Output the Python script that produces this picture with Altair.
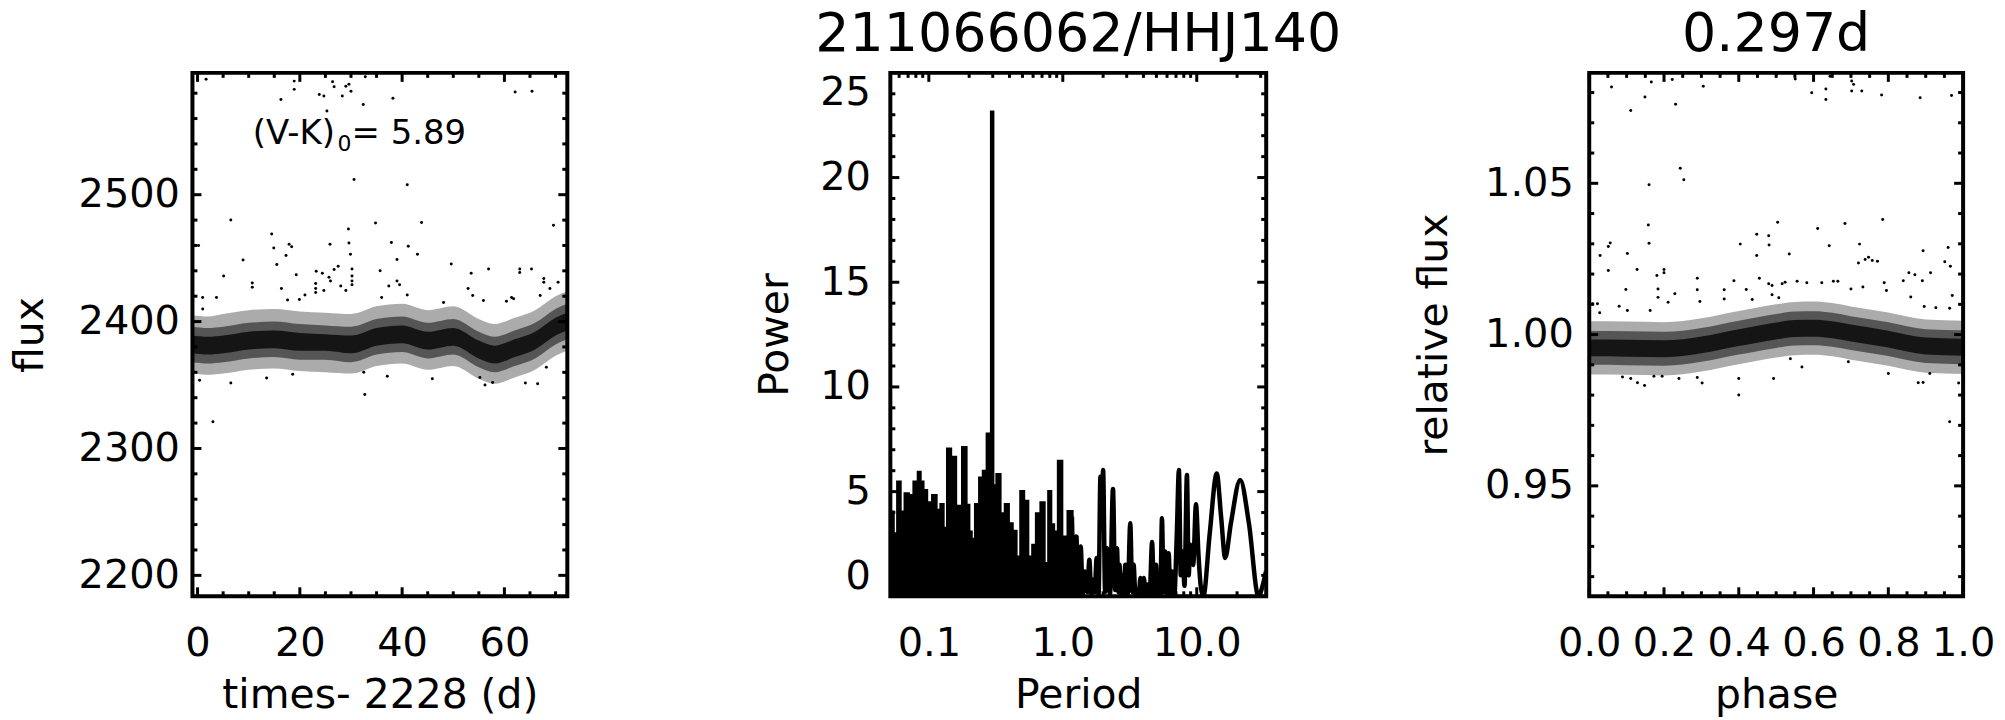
import altair as alt
import pandas as pd

FONT = "DejaVu Sans"

# ---------------- Panel 1: light curve ----------------
lc_band_t = [-1, 2, 5, 10, 15, 20, 25, 30, 35, 40, 45, 50, 55, 58, 62, 66, 70, 72.3]
lc_in_hi = [2389, 2388, 2389, 2392, 2393, 2391, 2390, 2389, 2395, 2397, 2392, 2395, 2385, 2381, 2386, 2392, 2403, 2407]
lc_in_lo = [2375, 2374, 2375, 2378, 2379, 2377, 2377, 2375, 2381, 2383, 2378, 2381, 2371, 2367, 2372, 2378, 2389, 2393]
lc_mid_hi = [2396, 2395, 2396, 2399, 2400, 2398, 2397, 2396, 2402, 2404, 2399, 2402, 2392, 2388, 2393, 2399, 2410, 2414]
lc_mid_lo = [2368, 2367, 2368, 2371, 2372, 2370, 2370, 2368, 2374, 2376, 2371, 2374, 2364, 2360, 2365, 2371, 2382, 2386]
lc_out_hi = [2405, 2404, 2406, 2409, 2410, 2408, 2407, 2406, 2412, 2414, 2409, 2412, 2402, 2398, 2403, 2409, 2420, 2424]
lc_out_lo = [2359, 2358, 2359, 2362, 2363, 2361, 2360, 2359, 2365, 2367, 2362, 2365, 2355, 2351, 2356, 2362, 2373, 2377]

lc_out_t = [1.67, 18.9, 18.9, 16.3, 26.4, 26.7, 29.6, 29.0, 30.0, 28.3, 23.8, 24.7, 25.3, 32.8, 32.4, 38.2, 62.1, 65.4, 41.0, 30.6,
            6.5, 14.5, 29.5, 34.8, 0.2, 14.9, 17.9, 18.4, 25.9, 29.6, 29.9, 17.3, 8.9, 15.5, 5.1, 27.5, 26.7, 19.3, 23.2, 24.4,
            26.0, 30.2, 30.2, 30.2, 35.7, 10.7, 10.7, 16.4, 23.1, 23.1, 23.1, 24.7, 28.0, 29.0, 25.7, 30.2, 3.7, 1.0, 1.0, 17.6,
            19.9, 21.0, 13.5, 6.5, 32.7, 3.0, 0.4, 18.6, 32.5,
            43.8, 69.6, 37.9, 41.2, 43.0, 39.0, 49.6, 53.5, 56.9, 63.0, 63.0, 65.3, 39.0, 39.5, 37.4, 36.0, 52.9, 53.8, 67.7, 67.7,
            68.9, 70.5, 41.0, 48.1, 55.9, 60.4, 61.4, 61.8, 67.0, 37.1, 45.9, 56.2, 57.7, 64.1, 66.5, 55.2, 68.2]
lc_out_f = [2591, 2589.5, 2583, 2575, 2589, 2585, 2587, 2585.5, 2581.6, 2577.7, 2579, 2577.7, 2566, 2593, 2571, 2576, 2581, 2581.6, 2507.8, 2512,
            2480, 2469, 2473, 2477.6, 2460, 2458, 2461, 2459, 2461, 2462, 2453, 2452, 2448.5, 2445, 2436, 2443.6, 2441, 2437, 2439.6, 2438,
            2432, 2441.5, 2436, 2432, 2440, 2430.5, 2427, 2426, 2430, 2426, 2423, 2424.5, 2428, 2424.5, 2435, 2429, 2419, 2419, 2410, 2417,
            2417.4, 2421, 2355.6, 2351.6, 2342.5, 2321, 2353.8, 2358.5, 2360,
            2478, 2476, 2462.4, 2459.3, 2453, 2449, 2445.4, 2438, 2441.5, 2441.5, 2438.6, 2441.5, 2432, 2429, 2428, 2419, 2426, 2420.5, 2434, 2431,
            2426, 2431, 2421, 2415, 2416.6, 2416, 2419, 2418, 2420.5, 2357, 2355, 2350, 2352, 2351.6, 2351, 2356, 2364]

lc_x_major = [0, 20, 40, 60]
lc_x_minor = [5, 10, 15, 25, 30, 35, 45, 50, 55, 65, 70]
lc_y_major = [2200, 2300, 2400, 2500]
lc_y_minor = [2220, 2240, 2260, 2280, 2320, 2340, 2360, 2380, 2420, 2440, 2460, 2480, 2520, 2540, 2560, 2580]

# ---------------- Panel 2: periodogram ----------------
pg_dense_p = [0.0516, 0.0535, 0.0560, 0.0600, 0.0634, 0.0684, 0.0737, 0.0798, 0.0855, 0.0885, 0.0942, 0.1004, 0.1112,
              0.1177, 0.1262, 0.1320, 0.1415, 0.1524, 0.1680, 0.1860, 0.1970, 0.2050, 0.2135, 0.2286, 0.2460, 0.2594,
              0.2810, 0.3050, 0.3340, 0.3530, 0.3850, 0.4075, 0.4395, 0.4650, 0.4980, 0.5330, 0.5740, 0.6080, 0.6520,
              0.7100, 0.7560, 0.8000, 0.8430, 0.8820, 0.9560, 1.0300, 1.1410, 1.2300, 1.3540]
pg_dense_pow = [4.05, 4.05, 3.0, 5.48, 4.05, 4.92, 4.84, 5.48, 5.95, 5.48, 5.08, 4.49, 4.84,
                4.13, 4.41, 3.27, 7.06, 6.67, 4.33, 7.13, 4.37, 3.1, 2.75, 4.41, 5.68, 6.0,
                7.78, 5.3, 5.84, 3.97, 4.41, 3.49, 3.13, 1.9, 5.03, 4.56, 1.9, 2.46, 3.97,
                4.49, 1.59, 5.03, 3.44, 3.1, 6.48, 2.86, 4.08, 2.86, 2.38]

pg_line_p = [1.17, 1.22, 1.26, 1.30, 1.36, 1.41, 1.46, 1.52, 1.58, 1.63, 1.675, 1.73, 1.79, 1.85, 1.91, 1.95, 2.0, 2.07,
             2.14, 2.25, 2.37, 2.46, 2.54, 2.60, 2.65, 2.71, 2.77, 2.85, 2.93, 3.05, 3.19, 3.30, 3.38, 3.48, 3.58, 3.69,
             3.80, 3.92, 4.03, 4.14, 4.26, 4.45, 4.64, 4.80, 4.97, 5.08, 5.2, 5.35, 5.5, 5.66, 5.82, 6.0, 6.17, 6.35,
             6.53, 6.8, 7.1, 7.36, 7.6, 7.84, 8.1, 8.45, 8.7, 8.95, 9.4, 9.87, 10.3, 10.7, 11.2, 12.5, 14.1, 15.2, 16.3,
             18.0, 21.1, 24.5, 28.9, 31.0, 32.9]
pg_line_pow = [3.81, 0.3, 2.86, 0.2, 2.38, 0.1, 1.19, 0.2, 1.75, 0.1, 0.79, 0.2, 1.83, 0.1, 5.71, 3.5, 6.03, 0.2,
               2.3, 0.1, 5.13, 0.3, 2.3, 0.2, 1.51, 0.1, 1.03, 0.1, 1.51, 0.1, 3.49, 0.2, 1.51, 0.1, 0.32, 0.05,
               0.87, 0.05, 0.87, 0.05, 0.56, 0.05, 2.59, 0.1, 1.51, 0.05, 0.56, 0.05, 3.73, 0.2, 2.14, 0.1, 2.06, 0.1,
               1.19, 0.05, 3.0, 6.03, 1.0, 2.14, 0.5, 5.79, 1.0, 2.46, 1.5, 4.40, 2.0, 0.5, 0.0, 3.0, 5.87, 3.8, 1.83,
               3.5, 5.56, 3.5, 0.0, 0.5, 1.2]

pg_peak_p = [0.297]
pg_peak_pow = [23.2]

pg_x_major = [0.1, 1.0, 10.0]
pg_x_minor = [0.06, 0.07, 0.08, 0.09, 0.2, 0.3, 0.4, 0.5, 0.6, 0.7, 0.8, 0.9,
              2, 3, 4, 5, 6, 7, 8, 9, 20, 30]
pg_y_major = [0, 5, 10, 15, 20, 25]
pg_y_minor = [1, 2, 3, 4, 6, 7, 8, 9, 11, 12, 13, 14, 16, 17, 18, 19, 21, 22, 23, 24]

# ---------------- Panel 3: phased light curve ----------------
ph_band = [0.0, 0.1, 0.2, 0.3, 0.4, 0.5, 0.55, 0.6, 0.65, 0.7, 0.8, 0.9, 1.0]
ph_in_hi = [0.9984, 0.9983, 0.9981, 0.9994, 1.0018, 1.0040, 1.0048, 1.0049, 1.0044, 1.0033, 1.0013, 0.9990, 0.9986]
ph_in_lo = [0.9928, 0.9927, 0.9925, 0.9938, 0.9962, 0.9984, 0.9992, 0.9993, 0.9988, 0.9977, 0.9957, 0.9934, 0.9930]
ph_mid_hi = [1.0012, 1.0011, 1.0009, 1.0022, 1.0046, 1.0068, 1.0076, 1.0077, 1.0072, 1.0061, 1.0041, 1.0018, 1.0014]
ph_mid_lo = [0.9900, 0.9899, 0.9897, 0.9910, 0.9934, 0.9956, 0.9964, 0.9965, 0.9960, 0.9949, 0.9929, 0.9906, 0.9902]
ph_out_hi = [1.0044, 1.0043, 1.0041, 1.0054, 1.0078, 1.0100, 1.0108, 1.0109, 1.0104, 1.0093, 1.0073, 1.0050, 1.0046]
ph_out_lo = [0.9868, 0.9867, 0.9865, 0.9878, 0.9902, 0.9924, 0.9932, 0.9933, 0.9928, 0.9917, 0.9897, 0.9874, 0.9870]

ph_out_x = [0.0596, 0.166, 0.222, 0.305, 0.149, 0.231, 0.111, 0.2435, 0.253, 0.160, 0.158, 0.160, 0.056, 0.051, 0.029,
            0.102, 0.051, 0.128, 0.181, 0.200, 0.200, 0.098, 0.184, 0.184, 0.229, 0.289, 0.289, 0.211, 0.361, 0.361,
            0.387, 0.404, 0.448, 0.448, 0.455, 0.481, 0.504, 0.420, 0.436, 0.489, 0.009, 0.022, 0.028, 0.080, 0.102,
            0.163, 0.296, 0.089, 0.111, 0.129, 0.148, 0.173, 0.195, 0.240, 0.289, 0.302, 0.400, 0.400, 0.493,
            0.551, 0.595, 0.633, 0.633, 0.644, 0.702, 0.707, 0.702, 0.729, 0.782, 0.885, 0.969, 0.611, 0.684, 0.785,
            0.480, 0.642, 0.723, 0.535, 0.960, 0.720, 0.747, 0.738, 0.771, 0.757, 0.893, 0.951, 0.966, 0.855, 0.871,
            0.840, 0.891, 0.913, 0.789, 0.795, 0.516, 0.524, 0.556, 0.582, 0.622, 0.653, 0.665, 0.480, 0.700, 0.732,
            0.971, 0.860, 0.896, 0.927, 0.964, 0.489, 0.507, 0.880, 0.893, 0.911, 0.964, 0.988, 0.800, 0.693, 0.569, 0.538]
ph_out_y = [1.0818, 1.0835, 1.0843, 1.0821, 1.0785, 1.0761, 1.0741, 1.0550, 1.0512, 1.0495, 1.0362, 1.0302, 1.0303, 1.0291, 1.0261,
            1.0268, 1.0212, 1.0215, 1.0195, 1.0204, 1.0215, 1.0149, 1.0151, 1.0123, 1.0135, 1.0186, 1.0148, 1.0107, 1.0148, 1.0118,
            1.0178, 1.0299, 1.0332, 1.0261, 1.0186, 1.0296, 1.0371, 1.0149, 1.0116, 1.0162, 1.0102, 1.0102, 1.0072, 1.0094, 1.0080,
            1.0080, 1.0109, 0.9860, 0.9855, 0.9841, 0.9832, 0.9862, 0.9862, 0.9855, 0.9858, 0.9840, 0.9855, 0.9800, 0.9855,
            1.0845, 1.0799, 1.0812, 1.0777, 1.0854, 1.0838, 1.0827, 1.0805, 1.0805, 1.0792, 1.0783, 1.0790, 1.0351, 1.0367, 1.0380,
            1.0327, 1.0294, 1.0299, 1.0266, 1.0288, 1.0237, 1.0256, 1.0248, 1.0242, 1.0245, 1.0277, 1.0241, 1.0226, 1.0204, 1.0198,
            1.0178, 1.0178, 1.0204, 1.0171, 1.0146, 1.0168, 1.0173, 1.0176, 1.0171, 1.0171, 1.0176, 1.0176, 1.0168, 1.0151, 1.0157,
            1.0129, 1.0124, 1.0093, 1.0089, 1.0087, 1.0132, 1.0122, 0.9841, 0.9842, 0.9871, 0.9712, 0.9840, 0.9871, 0.9910, 0.9893, 0.9920]

ph_x_major = [0.0, 0.2, 0.4, 0.6, 0.8, 1.0]
ph_x_minor = [0.05, 0.1, 0.15, 0.25, 0.3, 0.35, 0.45, 0.5, 0.55, 0.65, 0.7, 0.75, 0.85, 0.9, 0.95]
ph_y_major = [0.95, 1.00, 1.05]
ph_y_minor = [0.92, 0.93, 0.94, 0.96, 0.97, 0.98, 0.99, 1.01, 1.02, 1.03, 1.04, 1.06, 1.07, 1.08]

titles = ["211066062/HHJ140", "0.297d"]

# ---------------- helpers ----------------
H = 525
MAJ, MIN = 9, 5


def x_axis(title, values, fmt):
    return alt.Axis(title=title, values=values, format=fmt, ticks=False, tickSize=0, domain=False, grid=False,
                    labelFont=FONT, labelFontSize=40, labelColor="black", labelPadding=59,
                    labelBaseline="alphabetic", labelOverlap=False, labelFlush=False,
                    titleFont=FONT, titleFontSize=41, titleFontWeight="normal", titleColor="black",
                    titleBaseline="alphabetic", titleY=112)


def y_axis(title, values, fmt, pad, tx, flush=False):
    return alt.Axis(title=title, values=values, format=fmt, ticks=False, tickSize=0, domain=False, grid=False,
                    labelFont=FONT, labelFontSize=40, labelColor="black", labelPadding=pad,
                    labelOverlap=False, labelFlush=flush,
                    titleFont=FONT, titleFontSize=41, titleFontWeight="normal", titleColor="black",
                    titleAngle=270, titleBaseline="alphabetic", titleAlign="center", titleX=tx, titleY=H / 2)


def tick_layers(xs, ys, xmaj, xmin, ymaj, ymin, W):
    layers = []
    for vals, L in ((xmaj, MAJ), (xmin, MIN)):
        d = pd.DataFrame({"v": vals})
        base = alt.Chart(d).mark_rule(color="black", strokeWidth=3)
        layers.append(base.encode(x=alt.X("v:Q", scale=xs), y=alt.value(0), y2=alt.value(L)))
        layers.append(base.encode(x=alt.X("v:Q", scale=xs), y=alt.value(H), y2=alt.value(H - L)))
    for vals, L in ((ymaj, MAJ), (ymin, MIN)):
        d = pd.DataFrame({"v": vals})
        base = alt.Chart(d).mark_rule(color="black", strokeWidth=3)
        layers.append(base.encode(y=alt.Y("v:Q", scale=ys), x=alt.value(0), x2=alt.value(L)))
        layers.append(base.encode(y=alt.Y("v:Q", scale=ys), x=alt.value(W), x2=alt.value(W - L)))
    return layers


def band_layers(df, xf, xs, ys, ax, ay):
    out = []
    for hi, lo, op in (("ohi", "olo", 0.33), ("mhi", "mlo", 0.5), ("ihi", "ilo", 0.75)):
        out.append(alt.Chart(df).mark_area(color="black", opacity=op, interpolate="monotone").encode(
            x=alt.X(xf + ":Q", scale=xs, axis=ax), y=alt.Y(hi + ":Q", scale=ys, axis=ay), y2=lo + ":Q"))
    return out


def title_layer(text, W):
    return alt.Chart(pd.DataFrame({"s": [text]})).mark_text(
        font=FONT, fontSize=54, color="black", align="center", baseline="alphabetic").encode(
        x=alt.value(W / 2), y=alt.value(-22), text="s:N")


# ---------------- Panel 1 ----------------
W1 = 376
xs1 = alt.Scale(domain=[-1, 72.3], nice=False, zero=False)
ys1 = alt.Scale(domain=[2183.5, 2596], nice=False, zero=False)
ax1x = x_axis("times- 2228 (d)", lc_x_major, "d")
ax1y = y_axis("flux", lc_y_major, "d", 13, -150)

band1 = pd.DataFrame({"t": lc_band_t, "ihi": lc_in_hi, "ilo": lc_in_lo, "mhi": lc_mid_hi, "mlo": lc_mid_lo,
                      "ohi": lc_out_hi, "olo": lc_out_lo})
out1 = pd.DataFrame({"t": lc_out_t, "f": lc_out_f})

p1_pts = alt.Chart(out1).mark_circle(color="black", size=9, opacity=1).encode(
    x=alt.X("t:Q", scale=xs1, axis=ax1x), y=alt.Y("f:Q", scale=ys1, axis=ax1y))

lbl = pd.DataFrame({"t": [10.8], "f": [2540]})
txt_kw = dict(font=FONT, align="left", baseline="alphabetic", color="black")
p1_t1 = alt.Chart(lbl).mark_text(fontSize=34, **txt_kw).encode(
    x=alt.X("t:Q", scale=xs1), y=alt.Y("f:Q", scale=ys1), text=alt.value("(V-K)"))
p1_t2 = alt.Chart(lbl).mark_text(fontSize=22, dx=85, dy=7, **txt_kw).encode(
    x=alt.X("t:Q", scale=xs1), y=alt.Y("f:Q", scale=ys1), text=alt.value("0"))
p1_t3 = alt.Chart(lbl).mark_text(fontSize=34, dx=99, **txt_kw).encode(
    x=alt.X("t:Q", scale=xs1), y=alt.Y("f:Q", scale=ys1), text=alt.value("= 5.89"))

p1 = alt.layer(*band_layers(band1, "t", xs1, ys1, ax1x, ax1y), p1_pts, p1_t1, p1_t2, p1_t3,
               *tick_layers(xs1, ys1, lc_x_major, lc_x_minor, lc_y_major, lc_y_minor, W1)
               ).properties(width=W1, height=H)

# ---------------- Panel 2 ----------------
W2 = 377
xs2 = alt.Scale(type="log", domain=[0.0516, 33.0], nice=False)
ys2 = alt.Scale(domain=[0, 25], nice=False, zero=False)
ax2x = x_axis("Period", pg_x_major, ".1f")
ax2y = y_axis("Power", pg_y_major, "d", 20, -103, flush=True)

dense = pd.DataFrame({"p": pg_dense_p, "pw": pg_dense_pow})
line = pd.DataFrame({"p": pg_line_p, "pw": pg_line_pow})
peak = pd.DataFrame({"p": pg_peak_p, "pw": pg_peak_pow})

p2_area = alt.Chart(dense).mark_area(color="black", interpolate="step", stroke="black", strokeWidth=2, clip=True).encode(
    x=alt.X("p:Q", scale=xs2, axis=ax2x), y=alt.Y("pw:Q", scale=ys2, axis=ax2y))
p2_line = alt.Chart(line).mark_line(color="black", strokeWidth=4.5, interpolate="monotone", clip=True).encode(
    x=alt.X("p:Q", scale=xs2, axis=ax2x), y=alt.Y("pw:Q", scale=ys2, axis=ax2y))
p2_peak = alt.Chart(peak).mark_rule(color="black", strokeWidth=4.5).encode(
    x=alt.X("p:Q", scale=xs2, axis=ax2x), y=alt.Y("pw:Q", scale=ys2, axis=ax2y), y2=alt.datum(0))

p2 = alt.layer(p2_area, p2_line, p2_peak, title_layer(titles[0], W2),
               *tick_layers(xs2, ys2, pg_x_major, pg_x_minor, pg_y_major, pg_y_minor, W2)
               ).properties(width=W2, height=H)

# ---------------- Panel 3 ----------------
W3 = 375
xs3 = alt.Scale(domain=[0, 1], nice=False, zero=False)
ys3 = alt.Scale(domain=[0.9135, 1.0865], nice=False, zero=False)
ax3x = x_axis("phase", ph_x_major, ".1f")
ax3y = y_axis("relative flux", ph_y_major, ".2f", 16, -143)

band3 = pd.DataFrame({"ph": ph_band, "ihi": ph_in_hi, "ilo": ph_in_lo, "mhi": ph_mid_hi, "mlo": ph_mid_lo,
                      "ohi": ph_out_hi, "olo": ph_out_lo})
out3 = pd.DataFrame({"ph": ph_out_x, "r": ph_out_y})

p3_pts = alt.Chart(out3).mark_circle(color="black", size=9, opacity=1).encode(
    x=alt.X("ph:Q", scale=xs3, axis=ax3x), y=alt.Y("r:Q", scale=ys3, axis=ax3y))

p3 = alt.layer(*band_layers(band3, "ph", xs3, ys3, ax3x, ax3y), p3_pts, title_layer(titles[1], W3),
               *tick_layers(xs3, ys3, ph_x_major, ph_x_minor, ph_y_major, ph_y_minor, W3)
               ).properties(width=W3, height=H)

chart = alt.hconcat(p1, p2, p3, spacing=324, bounds="flush").properties(
    padding={"left": 0, "top": -3, "right": 0, "bottom": 0}, background="white"
).configure_view(stroke="black", strokeWidth=4)

chart.save("out.html", embed_options={"renderer": "svg", "actions": False})
